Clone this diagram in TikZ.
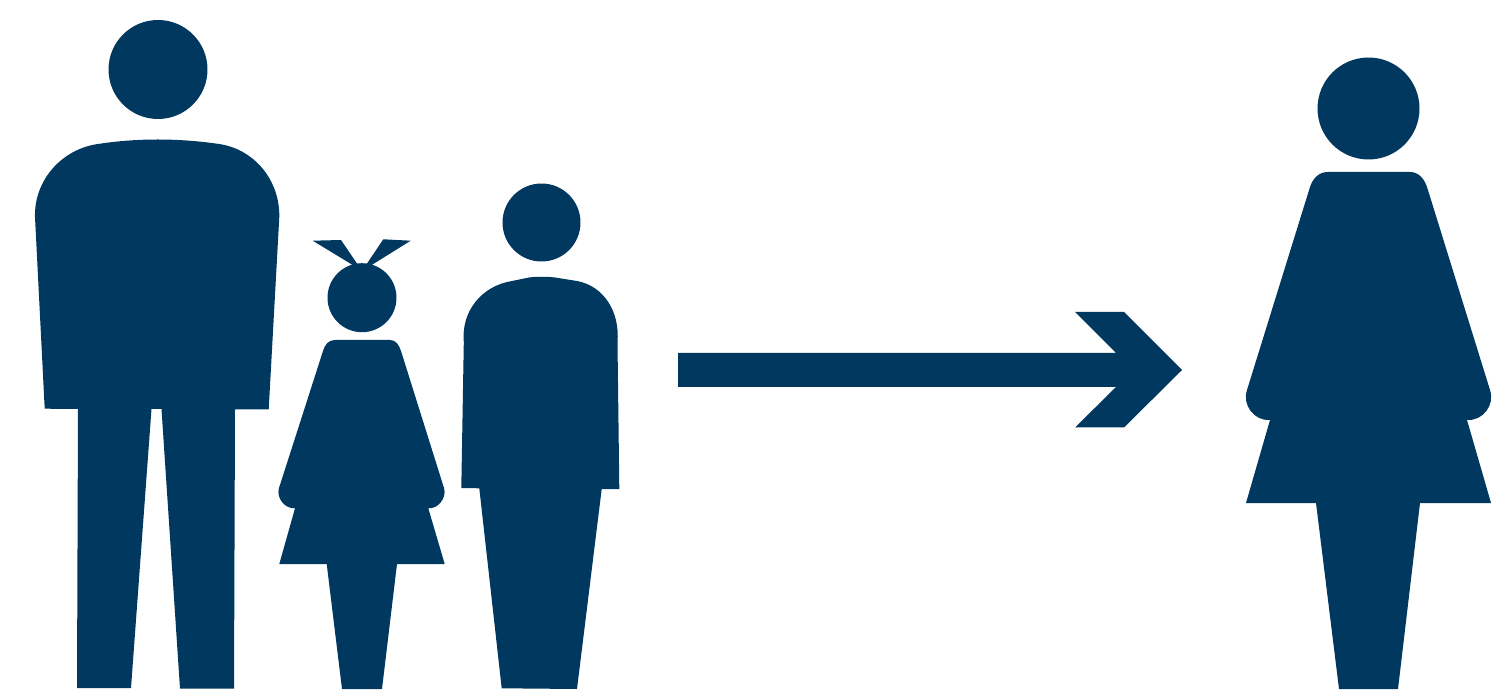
\documentclass[tikz,border=0pt]{standalone}
\definecolor{figblue}{HTML}{003860}
\begin{document}
\begin{tikzpicture}[
    x=0.02cm, y=-0.02cm,
    figure/.style={fill=figblue, draw=none},
]
\useasboundingbox (0,0) rectangle (1501,692);

\fill[figure] (158,69.5) circle[radius=0.99cm];
\fill[figure] (98,144) .. controls (137,138) and (178,138) .. (219,144)
    .. controls (254,149) and (280,180) .. (279.3,217)
    -- (268.7,409.5) -- (235,409.5) -- (234,688.5) -- (180,688.5) -- (161.5,409) -- (151.5,409)
    -- (131,688) -- (77,688) -- (78,409) -- (44.7,408.7) -- (35,217)
    .. controls (34,180) and (62,149) .. (98,144) -- cycle;

\fill[figure] (362,297.7) circle[radius=0.69cm];
\fill[figure] (312.7,240.7) -- (341,240) -- (357.3,264) -- (366.7,264) -- (383.3,239.3)
    -- (410.7,240.7) -- (371.7,265) -- (352.7,265) -- cycle;
\fill[figure] (335,340) -- (390,340) .. controls (396,340) and (399,345) .. (401,351)
    -- (444,488) .. controls (447,498) and (438,509) .. (428.3,508.3)
    -- (444.7,564) -- (397,564) -- (382,689) -- (342,689) -- (326.7,564) -- (279.3,564) -- (295,508.3)
    .. controls (285,509) and (276,498) .. (279,488)
    -- (323,351) .. controls (325,345) and (328,340) .. (335,340) -- cycle;

\fill[figure] (541.5,222.5) circle[radius=0.78cm];
\fill[figure] (512,281) -- (529,277.5) .. controls (536,276.5) and (547,276.5) .. (555,277.5) -- (577,281)
    .. controls (604,286) and (620,312) .. (617.5,342)
    -- (619.3,489) -- (601.7,489) -- (577,689) -- (501.7,688.3) -- (479.3,488.3) -- (461.3,488) -- (463.8,342)
    .. controls (461,312) and (481,286) .. (512,281) -- cycle;

\fill[figure] (678,353) -- (1116,353) -- (1075,312) -- (1124,312) -- (1182,370) -- (1124,427.5)
    -- (1075,427.5) -- (1116,387) -- (678,387) -- cycle;

\fill[figure] (1368.5,108.5) circle[radius=1.02cm];
\fill[figure] (1328,172) -- (1410,172) .. controls (1418,172) and (1424,178) .. (1427,187)
    -- (1490,390) .. controls (1495,405) and (1483,421) .. (1467,420)
    -- (1491,503) -- (1420,503) -- (1398,689) -- (1339,689) -- (1316,503) -- (1246,503) -- (1270,420)
    .. controls (1254,421) and (1242,405) .. (1247,390)
    -- (1310,187) .. controls (1313,178) and (1319,172) .. (1328,172) -- cycle;
\end{tikzpicture}
\end{document}
